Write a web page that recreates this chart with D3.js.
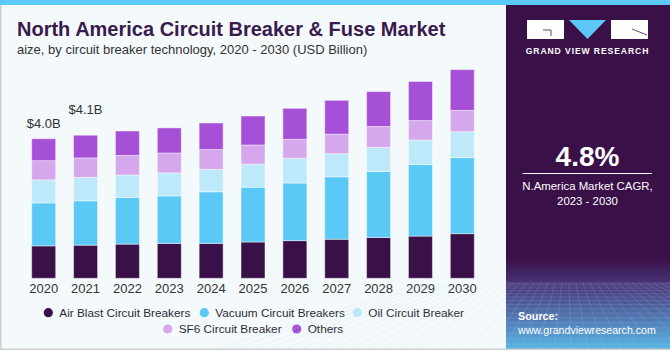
<!DOCTYPE html>
<html>
<head>
<meta charset="utf-8">
<script src="https://cdn.jsdelivr.net/npm/d3@7"></script>
<style>
  body { margin: 0; background: #fff; }
  svg { display: block; font-family: "Liberation Sans", Arial, sans-serif; }
</style>
</head>
<body>
<div id="chart"></div>
<script>
// Data (USD Billion)
const years = ["2020", "2021", "2022", "2023", "2024", "2025", "2026", "2027", "2028", "2029", "2030"];
const airBlast = [0.93, 0.95, 0.98, 1.00, 1.00, 1.04, 1.08, 1.12, 1.17, 1.21, 1.28];
const vacuum   = [1.23, 1.27, 1.34, 1.36, 1.48, 1.57, 1.65, 1.79, 1.89, 2.05, 2.18];
const oil      = [0.66, 0.67, 0.64, 0.66, 0.64, 0.66, 0.71, 0.66, 0.69, 0.70, 0.74];
const sf6      = [0.55, 0.56, 0.56, 0.57, 0.57, 0.55, 0.54, 0.56, 0.60, 0.56, 0.61];
const others   = [0.63, 0.65, 0.70, 0.72, 0.76, 0.83, 0.89, 0.97, 1.00, 1.12, 1.17];
const seriesNames = ["Air Blast Circuit Breakers", "Vacuum Circuit Breakers", "Oil Circuit Breaker", "SF6 Circuit Breaker", "Others"];
const seriesColors = ["#3a1049", "#5bc9f6", "#bde9fa", "#d5a8ee", "#a650d8"];
const valueLabels = ["$4.0B", "$4.1B"];

const width = 670, height = 350;
const svg = d3.select("#chart").append("svg")
    .attr("width", width)
    .attr("height", height);

// Background + frame
svg.append("rect").attr("width", width).attr("height", height).attr("fill", "#f4f9fc");
svg.append("rect").attr("x", 0).attr("y", 0).attr("width", 1.5).attr("height", height).attr("fill", "#cfcfcf");
svg.append("rect").attr("x", 0).attr("y", height - 1.5).attr("width", width).attr("height", 1.5).attr("fill", "#cfcfcf");

// Title
svg.append("text")
    .attr("x", 17).attr("y", 36)
    .attr("font-size", 20).attr("font-weight", "bold")
    .attr("fill", "#3a1a4d")
    .text("North America Circuit Breaker & Fuse Market");
svg.append("text")
    .attr("x", 17).attr("y", 54)
    .attr("font-size", 13)
    .attr("fill", "#333")
    .text("aize, by circuit breaker technology, 2020 - 2030 (USD Billion)");

// Stack the data
const table = years.map((y, i) => ({
    year: y,
    [seriesNames[0]]: airBlast[i],
    [seriesNames[1]]: vacuum[i],
    [seriesNames[2]]: oil[i],
    [seriesNames[3]]: sf6[i],
    [seriesNames[4]]: others[i]
}));
const stacked = d3.stack().keys(seriesNames)(table);

const baseY = 278.3;
const xScale = d3.scaleBand()
    .domain(years)
    .range([31.7, 474.3])
    .paddingInner(0.427)
    .paddingOuter(0);
const yScale = d3.scaleLinear()
    .domain([0, 6])
    .range([baseY, baseY - 6 * 34.9]);
const color = d3.scaleOrdinal().domain(seriesNames).range(seriesColors);

// Bars
const groups = svg.append("g").selectAll("g")
    .data(stacked)
    .enter()
    .append("g")
    .attr("fill", d => color(d.key));

groups.selectAll("rect")
    .data(d => d)
    .enter()
    .append("rect")
    .attr("x", d => xScale(d.data.year))
    .attr("y", d => yScale(d[1]))
    .attr("width", xScale.bandwidth())
    .attr("height", d => yScale(d[0]) - yScale(d[1]))
    .attr("stroke", "rgba(255,255,255,0.45)")
    .attr("stroke-width", 1);

// Totals labels for the first two years
const totals = years.map((y, i) => airBlast[i] + vacuum[i] + oil[i] + sf6[i] + others[i]);
const labelGap = [11, 21];
valueLabels.forEach((t, i) => {
    svg.append("text")
        .attr("x", xScale(years[i]) + xScale.bandwidth() / 2)
        .attr("y", yScale(totals[i]) - labelGap[i])
        .attr("text-anchor", "middle")
        .attr("font-size", 13)
        .attr("fill", "#333")
        .text(t);
});

// X axis
const xAxis = svg.append("g")
    .attr("transform", `translate(0, ${baseY})`)
    .call(d3.axisBottom(xScale).tickSize(0).tickPadding(5));
xAxis.select(".domain").remove();
xAxis.selectAll("text")
    .attr("font-size", 13)
    .attr("font-family", "Liberation Sans, Arial, sans-serif")
    .attr("fill", "#333");

// Legend
const legendRows = [
    [{ i: 0, cx: 48.3 }, { i: 1, cx: 204.3 }, { i: 2, cx: 357.3 }],
    [{ i: 3, cx: 167.7 }, { i: 4, cx: 296.7 }]
];
const legendY = [312.7, 329];
legendRows.forEach((row, r) => {
    row.forEach(item => {
        svg.append("circle")
            .attr("cx", item.cx).attr("cy", legendY[r]).attr("r", 4.6)
            .attr("fill", seriesColors[item.i]);
        svg.append("text")
            .attr("x", item.cx + 11).attr("y", legendY[r] + 4.3)
            .attr("font-size", 11.8)
            .attr("fill", "#2b2b35")
            .text(seriesNames[item.i]);
    });
});

// Right panel
const panelX = 506;
const defs = svg.append("defs");
const grad = defs.append("linearGradient").attr("id", "panelGrad")
    .attr("x1", 0).attr("y1", 0).attr("x2", 0).attr("y2", 1);
grad.append("stop").attr("offset", "0%").attr("stop-color", "#3a1049");
grad.append("stop").attr("offset", "74%").attr("stop-color", "#3a1049");
grad.append("stop").attr("offset", "82%").attr("stop-color", "#4a3a7e");
grad.append("stop").attr("offset", "100%").attr("stop-color", "#58b8e6");
svg.append("rect")
    .attr("x", panelX).attr("y", 0)
    .attr("width", width - panelX).attr("height", height)
    .attr("fill", "url(#panelGrad)");

// Perspective grid at the bottom of the panel
const grid = svg.append("g").attr("stroke", "rgba(190,215,245,0.28)").attr("stroke-width", 0.6).attr("fill", "none");
const horizon = 283;
d3.range(0, 18).forEach(k => {
    const yy = horizon + Math.pow(k / 17, 1.5) * (height - horizon);
    grid.append("line").attr("x1", panelX).attr("x2", width).attr("y1", yy).attr("y2", yy);
});
d3.range(-12, 26).forEach(k => {
    const xTop = panelX + k * 7;
    const xBot = panelX + 82 + (k - 10) * 17;
    grid.append("line").attr("x1", xTop).attr("y1", horizon).attr("x2", xBot).attr("y2", height);
});
svg.append("rect").attr("x", panelX).attr("y", height - 1.5).attr("width", width - panelX).attr("height", 1.5).attr("fill", "#cfcfcf");

// Top blue strip
svg.append("rect").attr("x", 0).attr("y", 0).attr("width", width).attr("height", 5).attr("fill", "#5bc8f5");

// Logo
const logo = svg.append("g");
logo.append("rect").attr("x", 527).attr("y", 20).attr("width", 37).attr("height", 19).attr("fill", "#fff");
logo.append("path").attr("d", "M543 30 H551 V36").attr("stroke", "#3a1049").attr("stroke-width", 0.8).attr("fill", "none");
logo.append("path").attr("d", "M569 20 L606 20 L587.5 39 Z").attr("fill", "#5bc8f5");
logo.append("rect").attr("x", 611).attr("y", 20).attr("width", 37).attr("height", 19).attr("fill", "#fff");
logo.append("path").attr("d", "M632 29 L647 35").attr("stroke", "#3a1049").attr("stroke-width", 0.8);
svg.append("text")
    .attr("x", 587.5).attr("y", 53.5)
    .attr("text-anchor", "middle")
    .attr("font-size", 8.6).attr("font-weight", "bold")
    .attr("letter-spacing", 0.9)
    .attr("fill", "#fff")
    .text("GRAND VIEW RESEARCH");

// CAGR block
svg.append("text")
    .attr("x", 587.5).attr("y", 165.5)
    .attr("text-anchor", "middle")
    .attr("font-size", 28).attr("font-weight", "bold")
    .attr("fill", "#fff")
    .text("4.8%");
svg.append("line")
    .attr("x1", 522.7).attr("x2", 652).attr("y1", 173.5).attr("y2", 173.5)
    .attr("stroke", "#fff").attr("stroke-width", 1);
svg.append("text")
    .attr("x", 587.5).attr("y", 190)
    .attr("text-anchor", "middle")
    .attr("font-size", 11.4).attr("fill", "#fff")
    .text("N.America Market CAGR,");
svg.append("text")
    .attr("x", 587.5).attr("y", 204.5)
    .attr("text-anchor", "middle")
    .attr("font-size", 11.4).attr("fill", "#fff")
    .text("2023 - 2030");

// Source
svg.append("text")
    .attr("x", 518).attr("y", 319.5)
    .attr("font-size", 10.8).attr("font-weight", "bold").attr("fill", "#fff")
    .text("Source:");
svg.append("text")
    .attr("x", 518).attr("y", 333.5)
    .attr("font-size", 10.6).attr("fill", "#fff")
    .text("www.grandviewresearch.com");
</script>
</body>
</html>
